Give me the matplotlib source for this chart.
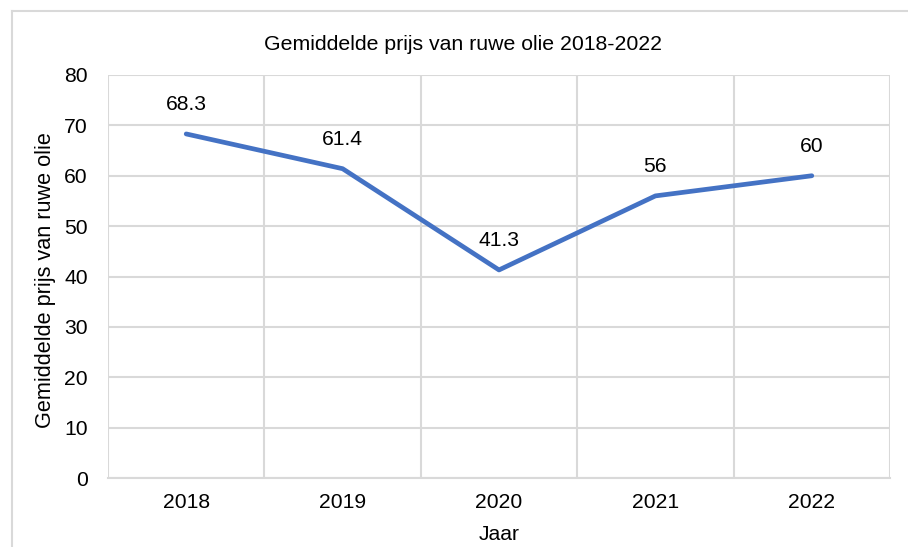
import matplotlib
matplotlib.use("Agg")
import matplotlib.pyplot as plt
from matplotlib.lines import Line2D

years = ["2018", "2019", "2020", "2021", "2022"]
prices = [68.3, 61.4, 41.3, 56, 60]
value_labels = ["68.3", "61.4", "41.3", "56", "60"]
title = "Gemiddelde prijs van ruwe olie 2018-2022"
ylabel = "Gemiddelde prijs van ruwe olie"
xlabel = "Jaar"

plt.rcParams['font.family'] = ['Liberation Sans', 'DejaVu Sans']

W, H = 908, 547
fig = plt.figure(figsize=(W/100, H/100), dpi=100)
ax = fig.add_axes([108/W, 1-478/H, (890-108)/W, (478-75)/H])

FS = 15.2
x = list(range(len(years)))
ax.plot(x, prices, color="#4472C4", linewidth=3.4, solid_capstyle="round", solid_joinstyle="round", zorder=3)
for xi, v, lab in zip(x, prices, value_labels):
    ax.annotate(lab, (xi, v), xytext=(0, 21), textcoords="offset points",
                ha="center", va="center", fontsize=FS, color="black")

ax.set_xlim(-0.5, len(years)-0.5)
ax.set_ylim(0, 80)
ax.set_yticks(range(0, 81, 10))
ax.set_xticks(x)
ax.set_xticklabels(years)
ax.tick_params(axis="both", length=0, labelsize=FS, colors="black")
ax.tick_params(axis="y", pad=14.5)
ax.tick_params(axis="x", pad=11)
# horizontal gridlines
ax.grid(axis="y", color="#D9D9D9", linewidth=1.5)
# vertical category boundary gridlines
ax.set_xticks([i - 0.5 for i in range(len(years)+1)], minor=True)
ax.tick_params(axis="x", which="minor", length=0)
ax.grid(axis="x", which="minor", color="#D9D9D9", linewidth=1.5)
ax.grid(axis="x", which="major", visible=False)
ax.set_axisbelow(True)
for s in ax.spines.values():
    s.set_visible(False)
ax.spines["bottom"].set_visible(True)
ax.spines["bottom"].set_color("#D9D9D9")
ax.spines["bottom"].set_linewidth(1.5)

fig.text(463/W, 1-45/H, title, ha="center", va="center", fontsize=15.3)
fig.text(46/W, 1-280/H, ylabel, ha="center", va="center", rotation=90, fontsize=15.6)
fig.text(499/W, 1-535/H, xlabel, ha="center", va="center", fontsize=FS)

# chart border (left and top)
fig.add_artist(Line2D([12/W, 12/W], [0, 1-11/H], transform=fig.transFigure, color="#D9D9D9", linewidth=1.5))
fig.add_artist(Line2D([12/W, 1], [1-11/H, 1-11/H], transform=fig.transFigure, color="#D9D9D9", linewidth=1.5))

fig.savefig("out.png", dpi=100)
